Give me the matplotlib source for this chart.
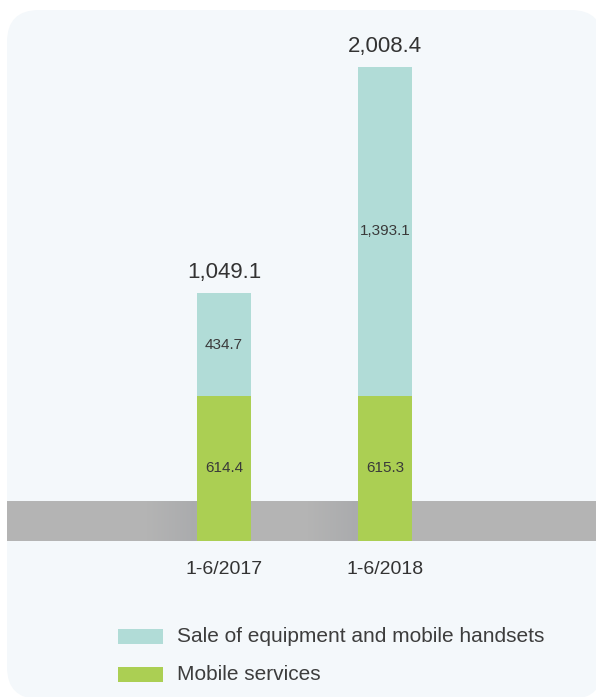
import numpy as np
import matplotlib
matplotlib.use("Agg")
import matplotlib.pyplot as plt
from matplotlib.patches import FancyBboxPatch, Rectangle
from matplotlib.colors import LinearSegmentedColormap

# ---- data ----
categories = ["1-6/2017", "1-6/2018"]
mobile_services = [614.4, 615.3]
equipment_sales = [434.7, 1393.1]
totals = [1049.1, 2008.4]
series_names = ["Sale of equipment and mobile handsets", "Mobile services"]

# ---- styling ----
C_TEAL = "#B1DCD7"
C_GREEN = "#ABCF53"
C_BAND = "#B4B4B4"
C_PANEL = "#F4F8FB"
C_TEXT = "#333333"
FONT = ["Liberation Sans", "DejaVu Sans"]

W, H = 596, 697
fig = plt.figure(figsize=(W / 100, H / 100), dpi=100)
fig.patch.set_facecolor("white")

# decoration axes in pixel coordinates
deco = fig.add_axes([0, 0, 1, 1])
deco.axis("off")
deco.add_patch(FancyBboxPatch((7, 10), 596, 689,
                              boxstyle="round,pad=0,rounding_size=32",
                              fc=C_PANEL, ec="none", zorder=0))
deco.add_patch(Rectangle((7, 501), 600, 40, fc=C_BAND, ec="none", zorder=1))
# soft shading on the band next to each bar
cmap = LinearSegmentedColormap.from_list("sh", ["#B4B4B4", "#AAABAD"])
grad = np.linspace(0, 1, 64)[None, :]
for left in (197, 358):
    deco.imshow(grad, cmap=cmap, extent=(left - 50, left, 541, 501),
                aspect="auto", zorder=2, interpolation="bilinear")
deco.set_xlim(0, W)
deco.set_ylim(H, 0)

# main data axes
ax = fig.add_axes([0, 0, 1, 1])
ax.patch.set_alpha(0)
k = 0.2362  # px per unit
base_px = 541
ax.set_ylim(-(H - base_px) / k, base_px / k)
ax.set_xlim(-224 / 161, (W - 224) / 161)
ax.axis("off")

x = np.arange(len(categories))
bw = 54 / 161
b1 = ax.bar(x, mobile_services, width=bw, color=C_GREEN, zorder=3,
            label=series_names[1])
b2 = ax.bar(x, equipment_sales, width=bw, bottom=mobile_services,
            color=C_TEAL, zorder=3, label=series_names[0])

seg_font = dict(family=FONT, size=11, color="#3a3a3a")
for i in range(len(categories)):
    ax.text(x[i], mobile_services[i] / 2, f"{mobile_services[i]:,.1f}",
            ha="center", va="center", zorder=4, **seg_font)
    ax.text(x[i], mobile_services[i] + equipment_sales[i] / 2,
            f"{equipment_sales[i]:,.1f}", ha="center", va="center",
            zorder=4, **seg_font)
    ax.annotate(f"{totals[i]:,.1f}", (x[i], totals[i]),
                xytext=(0, 10.8), textcoords="offset points",
                ha="center", va="baseline", fontsize=16,
                family=FONT, color=C_TEXT)
    ax.annotate(categories[i], (x[i], 0), xytext=(0, -20.5),
                textcoords="offset points", ha="center", va="center",
                fontsize=14, family=FONT, color=C_TEXT)

# legend (manual, pixel coords)
leg = [(series_names[0], C_TEAL, 636.5), (series_names[1], C_GREEN, 674.5)]
for name, col, yc in leg:
    deco.add_patch(Rectangle((118, yc - 7.5), 45, 15, fc=col, ec="none",
                             zorder=5))
    deco.text(177, yc, name, ha="left", va="center", fontsize=15,
              family=FONT, color="#3d3d3d", zorder=5)

fig.savefig("out.png", dpi=100, facecolor="white")
